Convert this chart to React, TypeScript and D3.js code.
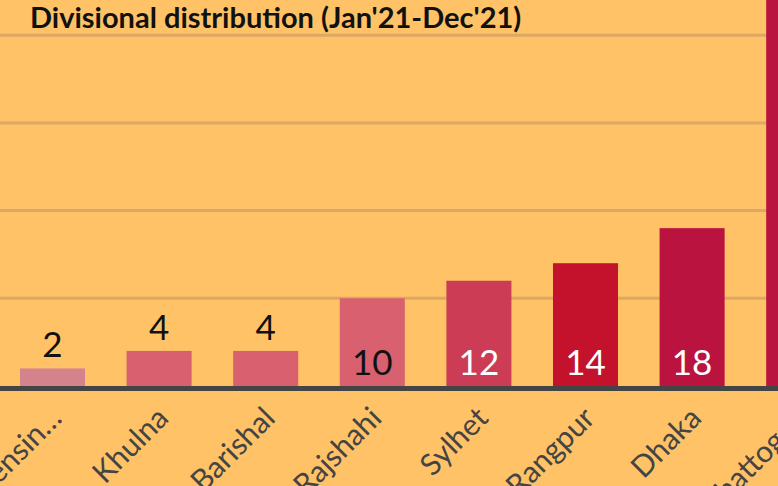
import React from "react";
import * as d3 from "d3";

const categories = ["Mymensingh", "Khulna", "Barishal", "Rajshahi", "Sylhet", "Rangpur", "Dhaka", "Chattogram"];
const values = [2, 4, 4, 10, 12, 14, 18, 56];
const barColors = ["#d4828c", "#d8606f", "#d8606f", "#d8606f", "#cc3d55", "#c4122c", "#bb133f", "#bb133f"];
const gridTicks = [10, 20, 30, 40];
const title = "Divisional distribution (Jan'21-Dec'21)";

const W = 778;
const H = 486;
const FONT = "Lato, 'Open Sans', sans-serif";

function truncate(s: string, n: number) {
  return s.length > n ? s.slice(0, n - 1) + "\u2026" : s;
}

export default function App() {
  const x = d3.scaleBand<string>().domain(categories).range([-0.8, 852]).paddingInner(0.39).paddingOuter(0.195);
  const y = d3.scaleLinear().domain([0, 40]).range([386, 35.2]);
  const base = y(0);
  return (
    <svg width={W} height={H} style={{ position: "absolute", left: 0, top: 0, display: "block", overflow: "hidden" }}>
      <rect x={0} y={0} width={W} height={H} fill="#ffc266" />
      {gridTicks.map((t) => (
        <line key={t} x1={0} x2={W} y1={y(t)} y2={y(t)} stroke="#dba866" strokeWidth={3} />
      ))}
      {categories.map((c, i) => {
        const bx = x(c)!;
        const bw = x.bandwidth();
        const v = values[i];
        const top = y(v);
        const inside = v >= 10;
        const cx = bx + bw / 2;
        return (
          <g key={c}>
            <rect x={bx} y={top} width={bw} height={base - top} fill={barColors[i]} />
            {v < 40 && (
              <text
                x={cx}
                y={inside ? base - 11 : top - 11}
                textAnchor="middle"
                fontFamily={FONT}
                fontWeight={400}
                fontSize={35}
                fill={inside && v > 10 ? "#ffffff" : "#111111"}
              >
                {v}
              </text>
            )}
            <text
              transform={`translate(${cx + 11},${420}) rotate(-45)`}
              textAnchor="end"
              fontFamily={FONT}
              fontSize={30}
              fill="#444444"
            >
              {truncate(c, 9)}
            </text>
          </g>
        );
      })}
      <line x1={0} x2={W} y1={base + 2.5} y2={base + 2.5} stroke="#444444" strokeWidth={5} />
      <text x={30} y={28} fontFamily={FONT} fontWeight={700} fontSize={29} fill="#111111">
        {title}
      </text>
    </svg>
  );
}
